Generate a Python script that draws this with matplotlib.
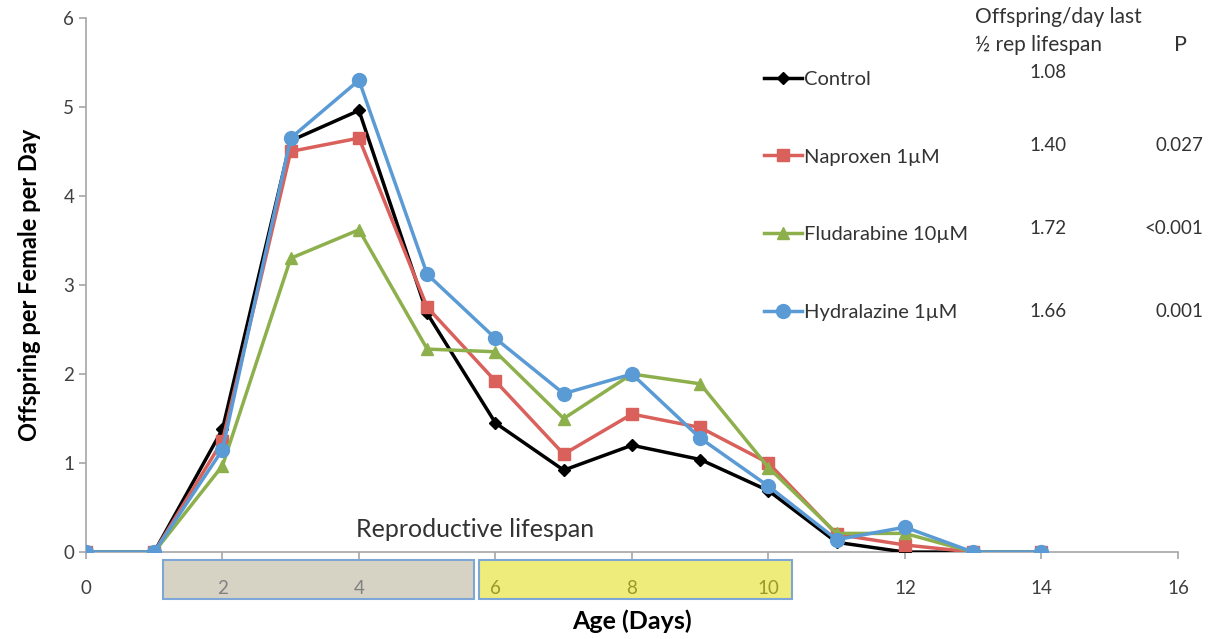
import matplotlib
matplotlib.use("Agg")
import matplotlib.pyplot as plt
from matplotlib.patches import Rectangle
import matplotlib.transforms as mtransforms

plt.rcParams['font.family'] = ['Lato', 'DejaVu Sans']

# data
age = [0, 1, 2, 3, 4, 5, 6, 7, 8, 9, 10, 11, 12, 13, 14]
control = [0, 0, 1.38, 4.62, 4.96, 2.68, 1.45, 0.92, 1.20, 1.04, 0.69, 0.11, 0.0, 0, 0]
naproxen = [0, 0, 1.25, 4.50, 4.65, 2.75, 1.92, 1.10, 1.55, 1.40, 1.00, 0.20, 0.08, 0, 0]
fludarabine = [0, 0, 0.97, 3.30, 3.62, 2.28, 2.25, 1.50, 2.00, 1.89, 0.95, 0.21, 0.21, 0, 0]
hydralazine = [0, 0, 1.15, 4.65, 5.30, 3.12, 2.40, 1.78, 2.00, 1.28, 0.74, 0.14, 0.28, 0, 0]

series_names = ["Control", "Naproxen 1µM", "Fludarabine 10µM", "Hydralazine 1µM"]
late_rate = ["1.08", "1.40", "1.72", "1.66"]
p_values = ["", "0.027", "<0.001", "0.001"]

# reproductive lifespan phases on the age axis
early_phase = (1.13, 5.69)
late_phase = (5.76, 10.34)

fig = plt.figure(figsize=(12.16, 6.39), dpi=100)
ax = fig.add_axes([0.0707, 0.136, 0.898, 0.836])

ax.plot(age, control, color="black", lw=2.5, marker="D", ms=6, label=series_names[0], zorder=3)
ax.plot(age, naproxen, color="#D9605B", lw=2.5, marker="s", ms=9, label=series_names[1], zorder=3)
ax.plot(age, fludarabine, color="#8DB04C", lw=2.5, marker="^", ms=9, label=series_names[2], zorder=3)
ax.plot(age, hydralazine, color="#5B9BD5", lw=2.5, marker="o", ms=10, label=series_names[3], zorder=4)

ax.set_xlim(0, 16)
ax.set_ylim(0, 6)
ax.set_xticks(range(0, 17, 2))
ax.set_yticks(range(0, 7))
for s in ["top", "right"]:
    ax.spines[s].set_visible(False)
for s in ["left", "bottom"]:
    ax.spines[s].set_color("#A6A6A6")
    ax.spines[s].set_linewidth(1.2)
    ax.spines[s].set_zorder(1)
ax.tick_params(axis="both", colors="#A6A6A6", labelcolor="#404040", labelsize=13.5, length=5, width=1.2)
ax.tick_params(axis="x", pad=15)

for lbl, v in zip(ax.get_xticklabels(), range(0, 17, 2)):
    if early_phase[0] < v < early_phase[1]:
        lbl.set_color("#808080")
    elif late_phase[0] < v < late_phase[1]:
        lbl.set_color("#9A9A28")

# shaded boxes behind the tick labels
trans = mtransforms.blended_transform_factory(ax.transData, ax.transAxes)
box_y, box_h = -0.0875, 0.073
ax.add_patch(Rectangle((early_phase[0], box_y), early_phase[1] - early_phase[0], box_h,
                       transform=trans, clip_on=False, facecolor="#D7D3C4",
                       edgecolor="#7EA6D6", lw=1.5, zorder=0))
ax.add_patch(Rectangle((late_phase[0], box_y), late_phase[1] - late_phase[0], box_h,
                       transform=trans, clip_on=False, facecolor="#EEEC7A",
                       edgecolor="#7EA6D6", lw=1.5, zorder=0))
ax.text(5.7, 0.25, "Reproductive lifespan", ha="center", va="center", fontsize=18, color="#333333")

ax.set_xlabel("Age (Days)", fontsize=18, fontweight="bold", labelpad=9)
ax.set_ylabel("Offspring per Female per Day", fontsize=17, fontweight="bold", labelpad=16)

ax.legend(loc="upper left", bbox_to_anchor=(0.628, 0.889), bbox_transform=fig.transFigure,
          frameon=False, fontsize=14.5, handlelength=1.9, handletextpad=0.1,
          labelspacing=3.0, borderpad=0, borderaxespad=0, labelcolor="#333333")

# side table
fig.text(0.802, 0.973, "Offspring/day last", fontsize=15, color="#333333", ha="left", va="center")
fig.text(0.802, 0.929, "½ rep lifespan", fontsize=15, color="#333333", ha="left", va="center")
fig.text(0.971, 0.929, "P", fontsize=15.5, color="#333333", ha="center", va="center")
row_y = [0.887, 0.772, 0.643, 0.513]
for y, r, p in zip(row_y, late_rate, p_values):
    fig.text(0.862, y, r, fontsize=13.5, color="#333333", ha="center", va="center")
    if p:
        fig.text(0.990, y, p, fontsize=13.5, color="#333333", ha="right", va="center")

fig.savefig("out.png", dpi=100)
